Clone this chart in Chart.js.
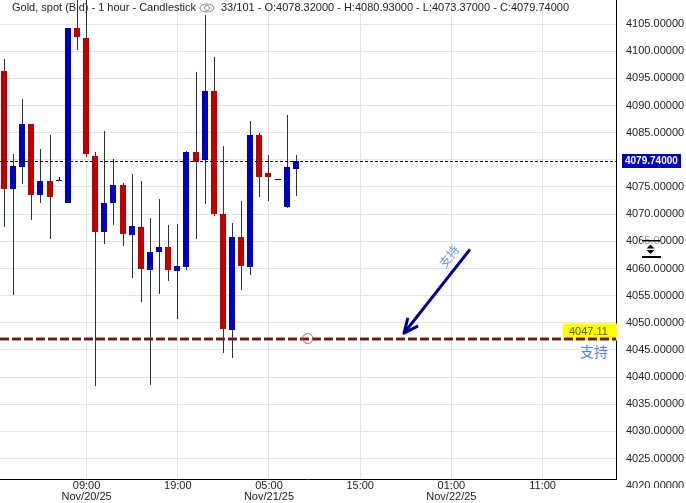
<!DOCTYPE html>
<html>
<head>
<meta charset="utf-8">
<title>Gold, spot (Bid) - 1 hour - Candlestick</title>
<script src="https://cdn.jsdelivr.net/npm/chart.js@4"></script>
<style>
    html, body { margin: 0; padding: 0; background: #fff; }
    canvas { display: block; }
</style>
</head>
<body>
<canvas id="goldChart" width="686" height="503"></canvas>
<script>
// Hourly candles, hour 0 = 00:00 on Nov/20/25
const hours = [0,1,2,3,4,5,6,7,8,9,10,11,12,13,14,15,16,17,18,19,20,21,22,23,24,25,26,27,28,29,30,31,32];
const opens = [4096.31,4074.58,4078.68,4086.55,4073.47,4076.05,4076.18,4072.05,4104.23,4102.38,4080.65,4066.66,4072.00,4075.31,4066.11,4067.58,4059.66,4062.97,4063.90,4059.48,4060.21,4081.39,4079.92,4092.62,4069.97,4048.61,4065.74,4060.21,4084.52,4077.52,4076.30,4071.26,4078.32];
const highs = [4098.52,4081.02,4091.15,4086.55,4081.94,4084.52,4076.79,4104.23,4112.00,4112.00,4081.39,4085.26,4080.10,4075.68,4077.34,4076.05,4069.24,4072.73,4067.95,4068.13,4081.57,4096.12,4106.62,4098.89,4082.50,4068.31,4072.37,4087.10,4084.89,4080.84,4076.40,4088.20,4080.93];
const lows = [4067.63,4055.06,4075.50,4068.87,4072.05,4065.37,4076.18,4072.05,4100.17,4080.52,4038.30,4064.45,4067.95,4064.08,4058.19,4053.77,4038.48,4055.24,4057.63,4050.64,4059.66,4065.37,4071.81,4069.60,4044.37,4043.45,4055.98,4058.74,4073.10,4072.37,4076.30,4071.08,4073.37];
const closes = [4074.58,4078.81,4086.55,4073.47,4076.05,4073.10,4076.18,4104.23,4102.62,4081.08,4066.66,4072.00,4075.31,4066.29,4067.76,4059.84,4062.97,4063.90,4059.66,4060.40,4081.39,4079.68,4092.62,4069.97,4048.79,4065.74,4060.40,4084.52,4076.79,4076.79,4076.40,4078.63,4079.74];

// 4080 has no label, the last price tag takes its place
const yTicks = [4105,4100,4095,4090,4085,4075,4070,4065,4060,4055,4050,4045,4040,4035,4030,4025,4020];
const xTicks = [9,19,29,39,49,59];
const xTickLabels = [['09:00','Nov/20/25'],['19:00'],['05:00','Nov/21/25'],['15:00'],['01:00','Nov/22/25'],['11:00']];

const lastClose = 4079.74;
const supportPrice = 4047.11;
const supportMarkHour = 33.25;
const arrowHours = [51.04, 43.80];
const arrowPrices = [4063.53, 4048.07];
const xRange = [-0.4934, 67.05];
const yRange = [4021.25, 4109.42];

const headerLeft = 'Gold, spot (Bid) - 1 hour - Candlestick';
const headerRight = '33/101 - O:4078.32000 - H:4080.93000 - L:4073.37000 - C:4079.74000';
const supportText = '支持';

const BLUE = '#0000c0';
const RED = '#c00000';
const WICK = '#2c3636';
const LATIN = '"Liberation Sans", Arial, sans-serif';
const CJK = '"Noto Sans CJK SC", sans-serif';

function candleColor(i) {
    if (closes[i] === opens[i]) return '#000';
    return closes[i] > opens[i] ? BLUE : RED;
}

const edgeLine = [{ x: xRange[0], y: 0 }, { x: xRange[1], y: 0 }];

// Snap marks to whole pixels, the original is not antialiased
const snapPlugin = {
    id: 'snap',
    afterDatasetsUpdate(chart) {
        chart.data.datasets.forEach((ds, i) => {
            const pts = chart.getDatasetMeta(i).data;
            if (ds.snap === 'wick' || ds.snap === 'body') {
                pts.forEach(b => {
                    b.x = Math.floor(b.x) + (ds.snap === 'wick' ? 0.5 : 0);
                    b.y = Math.round(b.y);
                    b.base = Math.round(b.base);
                    if (b.y === b.base) b.base = b.y + 1;
                });
            } else if (ds.snap === 'thin') {
                pts.forEach(p => { p.y = Math.floor(p.y) + 0.5; });
            } else if (ds.snap === 'thick') {
                pts.forEach(p => { p.y = Math.round(p.y + 0.2); });
            }
        });
    }
};

const overlayPlugin = {
    id: 'overlay',
    beforeDatasetsDraw(chart) {
        // yellow label sits under the support line
        const ctx = chart.ctx;
        const y = chart.scales.y.getPixelForValue(supportPrice);
        ctx.save();
        ctx.fillStyle = '#ffff00';
        ctx.fillRect(563, y - 15, 54, 17);
        ctx.restore();
    },
    afterDraw(chart) {
        const ctx = chart.ctx;
        const xs = chart.scales.x;
        const ys = chart.scales.y;
        ctx.save();
        ctx.textBaseline = 'middle';

        // header
        ctx.font = '11px ' + LATIN;
        ctx.fillStyle = '#222';
        ctx.fillText(headerLeft, 12, 7.5);
        ctx.fillText(headerRight, 221, 7.5);

        // eye icon
        ctx.strokeStyle = '#8a8a8a';
        ctx.lineWidth = 1;
        ctx.beginPath();
        ctx.ellipse(207, 8, 7, 4, 0, 0, Math.PI * 2);
        ctx.stroke();
        ctx.beginPath();
        ctx.arc(207, 8, 2.5, 0, Math.PI * 2);
        ctx.stroke();

        // last price tag
        const lastY = ys.getPixelForValue(lastClose);
        ctx.fillStyle = '#0000c0';
        ctx.fillRect(622, Math.round(lastY) - 7, 59, 14);
        ctx.fillStyle = '#fff';
        ctx.font = 'bold 10px ' + LATIN;
        ctx.fillText(lastClose.toFixed(5), 625, lastY + 0.5);

        // support label
        const supY = ys.getPixelForValue(supportPrice);
        ctx.fillStyle = '#4f5a00';
        ctx.font = '11px ' + LATIN;
        ctx.fillText(supportPrice.toFixed(2), 569, supY - 7);
        ctx.fillStyle = '#5580f0';
        ctx.font = '14px ' + CJK;
        ctx.fillText(supportText, 580, supY + 13);

        // arrow head + rotated text
        const tailX = xs.getPixelForValue(arrowHours[0]);
        const tailY = ys.getPixelForValue(arrowPrices[0]);
        const tipX = xs.getPixelForValue(arrowHours[1]);
        const tipY = ys.getPixelForValue(arrowPrices[1]);
        const ang = Math.atan2(tailY - tipY, tailX - tipX);
        ctx.strokeStyle = '#00008b';
        ctx.lineWidth = 3;
        ctx.lineJoin = 'round';
        ctx.beginPath();
        ctx.moveTo(tipX + 16 * Math.cos(ang - 0.42), tipY + 16 * Math.sin(ang - 0.42));
        ctx.lineTo(tipX, tipY);
        ctx.lineTo(tipX + 16 * Math.cos(ang + 0.42), tipY + 16 * Math.sin(ang + 0.42));
        ctx.stroke();

        ctx.save();
        ctx.translate(449, 256.5);
        ctx.rotate(-52 * Math.PI / 180);
        ctx.fillStyle = '#6a95f5';
        ctx.font = '12px ' + CJK;
        ctx.textAlign = 'center';
        ctx.fillText(supportText, 0, 0);
        ctx.restore();

        // lowest tick sits below the plot and is cut by the window frame
        ctx.save();
        ctx.beginPath();
        ctx.rect(616, 480, 70, 8);
        ctx.clip();
        ctx.fillStyle = '#222';
        ctx.font = '11px ' + LATIN;
        ctx.fillText(yTicks[yTicks.length - 1].toFixed(5), 626, ys.getPixelForValue(yTicks[yTicks.length - 1]) + 0.5);
        ctx.restore();

        // resize cursor over the axis
        ctx.fillStyle = 'rgba(255,255,255,0.55)';
        ctx.fillRect(642, 236, 18, 10);
        ctx.fillStyle = '#000';
        ctx.fillRect(642, 240, 18, 1.5);
        ctx.fillRect(642, 256, 19, 2);
        ctx.beginPath();
        ctx.moveTo(650.5, 244.5); ctx.lineTo(654.5, 248.5); ctx.lineTo(646.5, 248.5); ctx.closePath();
        ctx.moveTo(650.5, 254); ctx.lineTo(654.5, 250); ctx.lineTo(646.5, 250); ctx.closePath();
        ctx.fill();
        ctx.restore();
    }
};

document.addEventListener('DOMContentLoaded', function() {
    const ctx = document.getElementById('goldChart').getContext('2d');
    const goldChart = new Chart(ctx, {
        type: 'bar',
        data: {
            datasets: [
                {
                    type: 'line',
                    data: [{ x: supportMarkHour, y: supportPrice }],
                    showLine: false,
                    pointRadius: 5,
                    pointBorderWidth: 1,
                    pointBorderColor: '#f04858',
                    pointBackgroundColor: 'rgba(255,255,255,0)',
                    order: 0
                },
                {
                    type: 'line',
                    data: arrowHours.map((h, i) => ({ x: h, y: arrowPrices[i] })),
                    borderColor: '#00008b',
                    borderWidth: 3,
                    pointRadius: 0,
                    order: 1
                },
                {
                    type: 'line',
                    snap: 'thick',
                    data: edgeLine.map(p => ({ x: p.x, y: supportPrice })),
                    borderColor: '#701414',
                    borderWidth: 2.5,
                    borderDash: [9, 3],
                    pointRadius: 0,
                    order: 2
                },
                {
                    type: 'line',
                    snap: 'thick',
                    data: edgeLine.map(p => ({ x: p.x, y: supportPrice })),
                    borderColor: 'rgba(190,90,90,0.4)',
                    borderWidth: 4,
                    borderDash: [9, 3],
                    pointRadius: 0,
                    order: 3
                },
                {
                    type: 'line',
                    snap: 'thin',
                    data: edgeLine.map(p => ({ x: p.x, y: lastClose })),
                    borderColor: '#000',
                    borderWidth: 1,
                    borderDash: [3, 2],
                    pointRadius: 0,
                    order: 4
                },
                {
                    snap: 'body',
                    data: hours.map((h, i) => ({ x: h, y: [opens[i], closes[i]] })),
                    backgroundColor: hours.map((h, i) => candleColor(i)),
                    barThickness: 6,
                    grouped: false,
                    inflateAmount: 0,
                    minBarLength: 1,
                    order: 5
                },
                {
                    snap: 'wick',
                    data: hours.map((h, i) => ({ x: h, y: [lows[i], highs[i]] })),
                    backgroundColor: hours.map((h, i) => closes[i] === opens[i] ? '#000' : WICK),
                    barThickness: 1,
                    grouped: false,
                    inflateAmount: 0,
                    order: 6
                }
            ]
        },
        options: {
            responsive: false,
            animation: false,
            layout: { padding: 0, autoPadding: false },
            plugins: {
                legend: { display: false },
                tooltip: { enabled: false },
                title: { display: false }
            },
            scales: {
                x: {
                    type: 'linear',
                    min: xRange[0],
                    max: xRange[1],
                    offset: false,
                    afterFit: scale => { scale.height = 24; scale.paddingTop = 0; scale.paddingBottom = 0; },
                    afterBuildTicks: scale => { scale.ticks = xTicks.map(v => ({ value: v })); },
                    grid: { color: '#e4e4e4', offset: false, drawTicks: false },
                    border: { color: '#000', width: 1 },
                    ticks: {
                        autoSkip: false,
                        maxRotation: 0,
                        padding: 2,
                        color: '#222',
                        font: { family: LATIN, size: 11, lineHeight: 0.96 },
                        callback: value => xTickLabels[xTicks.indexOf(value)]
                    }
                },
                y: {
                    type: 'linear',
                    position: 'right',
                    min: yRange[0],
                    max: yRange[1],
                    afterFit: scale => { scale.width = 70; scale.paddingTop = 0; scale.paddingBottom = 0; },
                    grid: { color: '#e4e4e4', drawTicks: false },
                    border: { color: '#000', width: 1 },
                    ticks: {
                        stepSize: 5,
                        includeBounds: false,
                        autoSkip: false,
                        padding: 10,
                        color: '#222',
                        font: { family: LATIN, size: 11 },
                        callback: value => yTicks.includes(value) ? value.toFixed(5) : ''
                    }
                }
            }
        },
        plugins: [snapPlugin, overlayPlugin]
    });
});
</script>
</body>
</html>
